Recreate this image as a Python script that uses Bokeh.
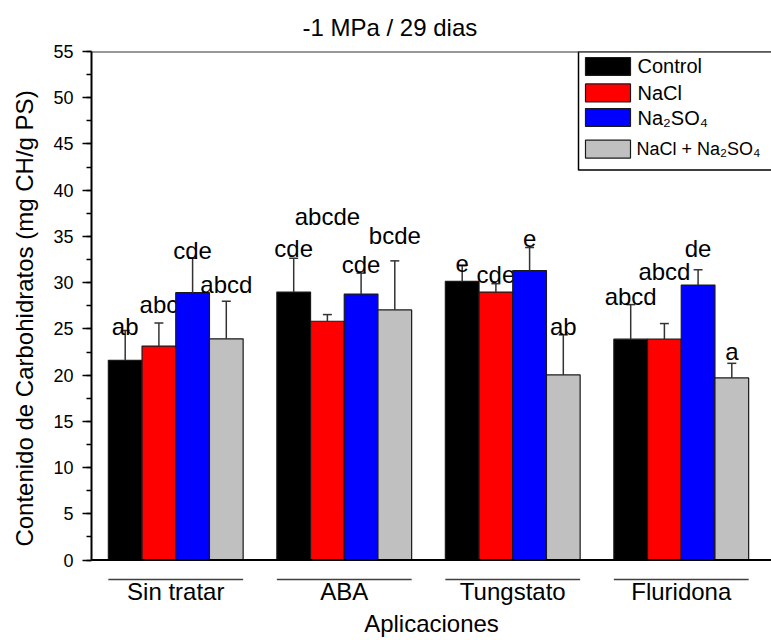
from bokeh.plotting import figure
from bokeh.models import Range1d, Span, SingleIntervalTicker, FixedTicker
from bokeh.core.properties import value
from bokeh.embed import file_html
from bokeh.resources import INLINE

# ---------------- data ----------------
groups = ["Sin tratar", "ABA", "Tungstato", "Fluridona"]
series = ["Control", "NaCl", "Na\u2082SO\u2084", "NaCl + Na\u2082SO\u2084"]

control = [21.6, 28.98, 30.14, 23.89]
nacl = [23.14, 25.83, 28.98, 23.89]
na2so4 = [28.92, 28.77, 31.32, 29.74]
mix = [23.93, 27.05, 20.02, 19.70]

err_control = [3.23, 3.66, 1.69, 3.74]
err_nacl = [2.51, 0.72, 0.91, 1.69]
err_na2so4 = [3.72, 2.26, 2.48, 1.66]
err_mix = [4.05, 5.31, 4.34, 1.58]

letters_control = ["ab", "cde", "e", "abcd"]
letters_nacl = ["abc", "abcde", "cde", "abcd"]
letters_na2so4 = ["cde", "cde", "e", "de"]
letters_mix = ["abcd", "bcde", "ab", "a"]

# baseline heights (data units) of the letter annotations
letter_y_control = [25.22, 33.66, 32.11, 28.52]
letter_y_nacl = [27.63, 37.21, 30.86, 31.21]
letter_y_na2so4 = [33.44, 32.0, 34.73, 33.72]
letter_y_mix = [29.78, 35.06, 25.22, 22.53]

title_text = "-1 MPa / 29 dias"
y_label = "Contenido de Carbohidratos (mg CH/g PS)"
x_label = "Aplicaciones"

# ---------------- styling / geometry ----------------
colors = ["#000000", "#FF0000", "#0000FF", "#C0C0C0"]
FONT = "Liberation Sans"
bar_w = 0.2
offsets = [-0.3, -0.1, 0.1, 0.3]
px_per_x = 168.5
px_per_y = 9.282

W, H = 771, 640
left_b, top_b, frame_bottom = 91, 49, 585
bottom_b = H - frame_bottom
frame_w = W - left_b
frame_h = frame_bottom - top_b
x_end = 0.5 + frame_w / px_per_x
y_start = 55 - frame_h / px_per_y
y0_px = top_b + 55 * px_per_y


def xv(px):
    return 0.5 + (px - left_b) / px_per_x


def yv(py):
    return (y0_px - py) / px_per_y


p = figure(width=W, height=H, output_backend="svg", toolbar_location=None,
           x_range=Range1d(0.5, x_end), y_range=Range1d(y_start, 55),
           min_border_left=left_b, min_border_right=0,
           min_border_top=top_b, min_border_bottom=bottom_b)
p.outline_line_color = None
p.grid.visible = False
p.background_fill_color = "white"
p.border_fill_color = "white"

p.title.text = title_text
p.title.text_font = FONT
p.title.text_font_size = "24px"
p.title.text_font_style = "normal"
p.title.text_color = "black"
p.title.align = "left"
p.title.offset = 211
p.title.standoff = 22

ya = p.yaxis[0]
ya.ticker = SingleIntervalTicker(interval=5, num_minor_ticks=2)
ya.bounds = (0, 55)
ya.axis_line_width = 2
ya.major_tick_line_width = 1.5
ya.minor_tick_line_width = 1.5
ya.major_tick_out = 9
ya.major_tick_in = 0
ya.minor_tick_out = 5
ya.minor_tick_in = 0
ya.major_label_text_font = FONT
ya.major_label_text_font_size = "18px"
ya.major_label_text_color = "black"
ya.major_label_standoff = 9
ya.axis_label = y_label
ya.axis_label_text_font = FONT
ya.axis_label_text_font_size = "24px"
ya.axis_label_text_font_style = "normal"
ya.axis_label_text_color = "black"
ya.axis_label_standoff = 12

gx = [i + 1 for i in range(len(groups))]

xa = p.xaxis[0]
xa.ticker = FixedTicker(ticks=gx, minor_ticks=[])
xa.major_label_overrides = {g: name for g, name in zip(gx, groups)}
xa.axis_line_color = None
xa.major_tick_line_color = None
xa.minor_tick_line_color = None
xa.major_tick_out = 0
xa.major_tick_in = 0
xa.minor_tick_out = 0
xa.minor_tick_in = 0
xa.major_label_standoff = -8
xa.major_label_text_font = FONT
xa.major_label_text_font_size = "24px"
xa.major_label_text_color = "black"
xa.axis_label = x_label
xa.axis_label_text_font = FONT
xa.axis_label_text_font_size = "24px"
xa.axis_label_text_font_style = "normal"
xa.axis_label_text_color = "black"
xa.axis_label_standoff = 2

vals = [control, nacl, na2so4, mix]
errs = [err_control, err_nacl, err_na2so4, err_mix]
letters = [letters_control, letters_nacl, letters_na2so4, letters_mix]
letter_ys = [letter_y_control, letter_y_nacl, letter_y_na2so4, letter_y_mix]

cap = 4.5 / px_per_x
for s in range(4):
    xs = [g + offsets[s] for g in gx]
    tops = vals[s]
    ehi = [t + e for t, e in zip(tops, errs[s])]
    p.vbar(x=xs, top=tops, bottom=0, width=bar_w, fill_color=colors[s],
           line_color="#1a1a1a", line_width=1.2)
    p.segment(x0=xs, y0=tops, x1=xs, y1=ehi, line_color="#333333", line_width=1.5)
    p.segment(x0=[x - cap for x in xs], y0=ehi, x1=[x + cap for x in xs], y1=ehi,
              line_color="#333333", line_width=1.5)
    p.text(x=xs, y=letter_ys[s], text=letters[s], text_font=value(FONT),
           text_font_size="24px", text_align="center", text_baseline="alphabetic",
           text_color="black")

# axis lines
p.add_layout(Span(location=0, dimension="width", line_color="black", line_width=2))
p.add_layout(Span(location=55, dimension="width", line_color="#333333", line_width=2))

# group underlines
uy = yv(579)
p.segment(x0=[g - 0.4 for g in gx], y0=[uy] * 4, x1=[g + 0.4 for g in gx], y1=[uy] * 4,
          line_color="#404040", line_width=1.5)

# legend (drawn manually, clipped at the right edge like the original)
p.quad(left=[xv(578)], right=[xv(800)], top=[55], bottom=[yv(168)],
       fill_color="white", line_color="black", line_width=1.5)
row_py = [64, 90.5, 115.3, 147]
sw_h = 18 / px_per_y
p.quad(left=[xv(585)] * 4, right=[xv(630)] * 4,
       top=[yv(r) + sw_h / 2 for r in row_py], bottom=[yv(r) - sw_h / 2 for r in row_py],
       fill_color=colors, line_color="#1a1a1a", line_width=1.2)
p.text(x=[xv(637)] * 3, y=[yv(r) for r in row_py[:3]], text=series[:3],
       text_font=value(FONT), text_font_size="20px", text_align="left",
       text_baseline="middle", text_color="black")
p.text(x=[xv(636)], y=[yv(row_py[3])], text=series[3:],
       text_font=value(FONT), text_font_size="18px", text_align="left",
       text_baseline="middle", text_color="black")

open("out.html", "w").write(file_html(p, INLINE))
